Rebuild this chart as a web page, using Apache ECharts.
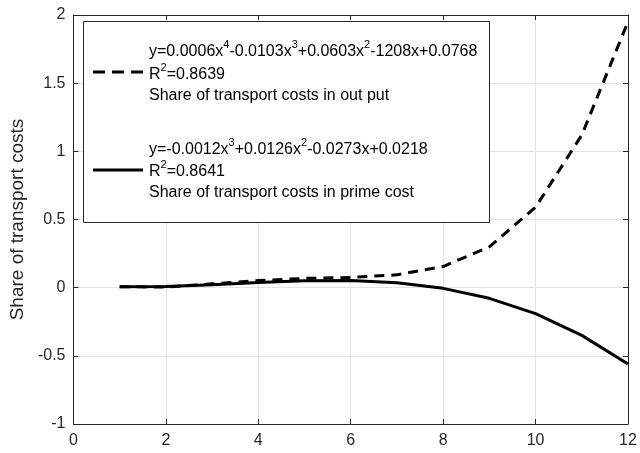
<!DOCTYPE html>
<html>
<head>
<meta charset="utf-8">
<script src="https://cdn.jsdelivr.net/npm/echarts@6/dist/echarts.min.js"></script>
<style>
html,body{margin:0;padding:0;background:#fff;}
#chart{width:640px;height:453px;}
</style>
</head>
<body>
<div id="chart"></div>
<script>
// Data
var xValues = [1, 2, 3, 4, 5, 6, 7, 8, 9, 10, 11, 12];
var shareInOutput = [0.007, 0.004, 0.028, 0.052, 0.068, 0.075, 0.094, 0.155, 0.30, 0.59, 1.12, 1.95];
var shareInPrimeCost = [0.006, 0.008, 0.021, 0.037, 0.050, 0.052, 0.036, -0.005, -0.078, -0.19, -0.35, -0.56];
var xTicks = [0, 2, 4, 6, 8, 10, 12];
var yTicks = [-1, -0.5, 0, 0.5, 1, 1.5, 2];
var yAxisTitle = 'Share of transport costs';
var legend1 = ['y=0.0006x{sup|4}-0.0103x{sup|3}+0.0603x{sup|2}-1208x+0.0768', 'R{sup|2}=0.8639', 'Share of transport costs in out put'];
var legend2 = ['y=-0.0012x{sup|3}+0.0126x{sup|2}-0.0273x+0.0218', 'R{sup|2}=0.8641', 'Share of transport costs in prime cost'];

function pairs(xs, ys) { return xs.map(function (x, i) { return [x, ys[i]]; }); }

var FONT = '"Liberation Sans", Arial, sans-serif';
var AX = '#262626';
var GRID = '#e3e3e3';

var richStyle = {
  n: { fontSize: 16, fontFamily: FONT, color: '#000', lineHeight: 25, verticalAlign: 'middle' },
  sup: { fontSize: 11, fontFamily: FONT, color: '#000', verticalAlign: 'top', lineHeight: 11 }
};

function wrapRich(str) {
  return str.split(/(\{sup\|[^}]*\})/).map(function (part) {
    if (!part) return '';
    return part.indexOf('{sup|') === 0 ? part : '{n|' + part + '}';
  }).join('');
}

function legendText(str, x, yCenter) {
  return {
    type: 'text', x: x, y: yCenter, z: 101,
    style: { text: wrapRich(str), fontSize: 16, fontFamily: FONT, fill: '#000',
      verticalAlign: 'middle', align: 'left', rich: richStyle }
  };
}

var chart = echarts.init(document.getElementById('chart'), null, { renderer: 'canvas' });
var option = {
  animation: false,
  backgroundColor: '#fff',
  grid: { left: 73, right: 12, top: 15, bottom: 29, containLabel: false },
  xAxis: [{
    type: 'value', min: xTicks[0], max: xTicks[xTicks.length - 1], interval: 2,
    axisLine: { show: true, onZero: false, lineStyle: { color: AX, width: 1 } },
    axisTick: { show: true, inside: true, length: 5, lineStyle: { color: AX } },
    axisLabel: { color: AX, fontSize: 16, fontFamily: FONT, margin: 9 },
    splitLine: { show: true, lineStyle: { color: GRID, width: 1 } }
  }, {
    type: 'value', position: 'top', min: xTicks[0], max: xTicks[xTicks.length - 1], interval: 2,
    axisLine: { show: true, onZero: false, lineStyle: { color: AX, width: 1 } },
    axisTick: { show: true, inside: true, length: 5, lineStyle: { color: AX } },
    axisLabel: { show: false }, splitLine: { show: false }
  }],
  yAxis: [{
    type: 'value', min: yTicks[0], max: yTicks[yTicks.length - 1], interval: 0.5,
    name: yAxisTitle, nameLocation: 'middle', nameGap: 41, nameRotate: 90,
    nameTextStyle: { color: AX, fontSize: 19, fontFamily: FONT },
    axisLine: { show: true, onZero: false, lineStyle: { color: AX, width: 1 } },
    axisTick: { show: true, inside: true, length: 5, lineStyle: { color: AX } },
    axisLabel: { color: AX, fontSize: 16, fontFamily: FONT, margin: 8 },
    splitLine: { show: true, lineStyle: { color: GRID, width: 1 } }
  }, {
    type: 'value', position: 'right', min: yTicks[0], max: yTicks[yTicks.length - 1], interval: 0.5,
    axisLine: { show: true, onZero: false, lineStyle: { color: AX, width: 1 } },
    axisTick: { show: true, inside: true, length: 5, lineStyle: { color: AX } },
    axisLabel: { show: false }, splitLine: { show: false }
  }],
  series: [{
    name: 'Share of transport costs in out put', type: 'line',
    data: pairs(xValues, shareInOutput), showSymbol: false, smooth: false,
    lineStyle: { color: '#000', width: 3, type: [10, 7] }, z: 3
  }, {
    name: 'Share of transport costs in prime cost', type: 'line',
    data: pairs(xValues, shareInPrimeCost), showSymbol: false, smooth: false,
    lineStyle: { color: '#000', width: 3, type: 'solid' }, z: 4
  }],
  graphic: [
    { type: 'rect', left: 83, top: 21, z: 100,
      shape: { width: 406, height: 201 },
      style: { fill: '#fff', stroke: AX, lineWidth: 1 } },
    { type: 'line', z: 101, shape: { x1: 93, y1: 72, x2: 143, y2: 72 },
      style: { stroke: '#000', lineWidth: 3, lineDash: [12, 7] } },
    { type: 'line', z: 101, shape: { x1: 93, y1: 170, x2: 143, y2: 170 },
      style: { stroke: '#000', lineWidth: 3 } },
    legendText(legend1[0], 149, 52),
    legendText(legend1[1], 149, 75),
    legendText(legend1[2], 149, 96),
    legendText(legend2[0], 149, 150),
    legendText(legend2[1], 149, 172),
    legendText(legend2[2], 149, 193)
  ]
};
chart.setOption(option);
</script>
</body>
</html>
